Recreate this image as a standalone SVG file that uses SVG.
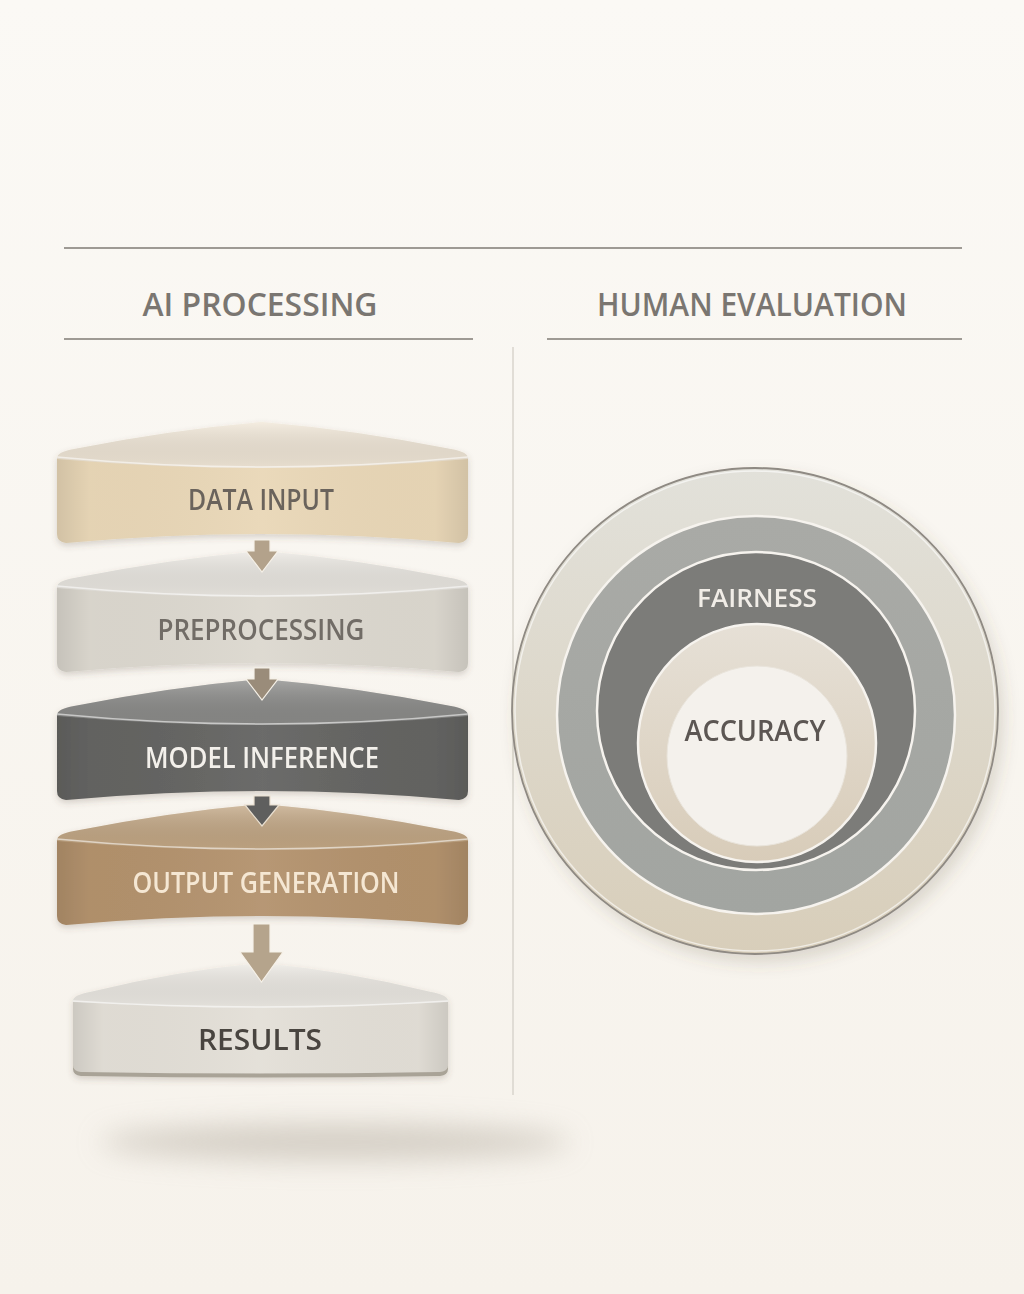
<svg xmlns="http://www.w3.org/2000/svg" width="1024" height="1294" viewBox="0 0 1024 1294">
<defs>
<linearGradient id="bg" x1="0" y1="0" x2="0" y2="1">
<stop offset="0" stop-color="#fbf9f5"/><stop offset="1" stop-color="#f6f2eb"/>
</linearGradient>
<linearGradient id="edge" x1="0" y1="0" x2="1" y2="0">
<stop offset="0" stop-color="#000" stop-opacity="0.10"/><stop offset="0.08" stop-color="#000" stop-opacity="0.02"/>
<stop offset="0.5" stop-color="#fff" stop-opacity="0.05"/>
<stop offset="0.92" stop-color="#000" stop-opacity="0.02"/><stop offset="1" stop-color="#000" stop-opacity="0.10"/>
</linearGradient>
<linearGradient id="lidshade" x1="0" y1="0" x2="0" y2="1">
<stop offset="0" stop-color="#fff" stop-opacity="0.25"/><stop offset="1" stop-color="#000" stop-opacity="0.04"/>
</linearGradient>
<linearGradient id="outerG" x1="0" y1="0" x2="0" y2="1">
<stop offset="0" stop-color="#e2e1da"/><stop offset="1" stop-color="#d8ceba"/>
</linearGradient>
<linearGradient id="ring2G" x1="0" y1="0" x2="0" y2="1">
<stop offset="0" stop-color="#a9aaa6"/><stop offset="1" stop-color="#a2a5a1"/>
</linearGradient>
<linearGradient id="ring4G" x1="0" y1="0" x2="0" y2="1">
<stop offset="0" stop-color="#e6e0d6"/><stop offset="1" stop-color="#d8ccb9"/>
</linearGradient>
<filter id="sh" x="-10%" y="-10%" width="120%" height="130%">
<feDropShadow dx="0" dy="3" stdDeviation="3" flood-color="#5a5040" flood-opacity="0.22"/>
</filter>
<filter id="csh" x="-10%" y="-10%" width="125%" height="125%">
<feDropShadow dx="5" dy="8" stdDeviation="8" flood-color="#5a5040" flood-opacity="0.18"/>
</filter>
<filter id="blur" x="-30%" y="-200%" width="160%" height="500%"><feGaussianBlur stdDeviation="14"/></filter>
<path id="lid" d="M57 37 Q56 30 74 27 Q170 8 262 0 Q355 8 451 27 Q469 30 468 37 Q262.5 55 57 37 Z"/>
<path id="face" d="M57 35 Q262.5 55 468 35 L468 112 Q468 120 459 121 Q262.5 103 66 121 Q57 120 57 112 Z"/>
<path id="rlid" d="M73 39 Q72 32 90 29 Q175 8 261 0 Q346 8 431 29 Q449 32 448 39 Q260.5 50 73 39 Z"/>
<path id="rface" d="M73 38 Q260.5 50 448 38 L448 102 Q448 108 440 109 Q260.5 112 81 109 Q73 108 73 102 Z"/>
</defs>
<style>
text{font-family:"Open Sans","Liberation Sans",sans-serif;text-anchor:middle}
.hdr{font-size:33px;fill:#7a7671;font-weight:600}
.lbl{font-size:28px;font-weight:600}
.rule{stroke:#9e9a94;stroke-width:2}
.hl{fill:none;stroke:#fff;stroke-opacity:0.55;stroke-width:1.5}
</style>
<rect width="1024" height="1294" fill="url(#bg)"/>

<g id="headers">
<line class="rule" x1="64" y1="248" x2="962" y2="248"/>
<line class="rule" x1="64" y1="339" x2="473" y2="339"/>
<line class="rule" x1="547" y1="339" x2="962" y2="339"/>
<line x1="513" y1="347" x2="513" y2="1095" stroke="#d9d5cd" stroke-width="1.5"/>
<text class="hdr" x="260" y="316" textLength="235" lengthAdjust="spacingAndGlyphs">AI PROCESSING</text>
<text class="hdr" x="752" y="316" textLength="310" lengthAdjust="spacingAndGlyphs">HUMAN EVALUATION</text>
</g>

<ellipse cx="335" cy="1142" rx="235" ry="18" fill="#b8b0a4" opacity="0.55" filter="url(#blur)"/>

<g id="data-input" transform="translate(0,422)" filter="url(#sh)">
<use href="#face" fill="#e9d7b7"/>
<use href="#face" fill="url(#edge)"/>
<use href="#lid" fill="#f1e7d7"/>
<use href="#lid" fill="url(#lidshade)"/>
<path class="hl" d="M57 35 Q262.5 55 468 35"/>
<text class="lbl" x="261" y="88" fill="#6b645c" textLength="146" lengthAdjust="spacingAndGlyphs">DATA INPUT</text>
</g>

<g id="preprocessing" transform="translate(0,551)" filter="url(#sh)">
<use href="#face" fill="#dcd8cf"/>
<use href="#face" fill="url(#edge)"/>
<use href="#lid" fill="#ebe8e2"/>
<use href="#lid" fill="url(#lidshade)"/>
<path class="hl" d="M57 35 Q262.5 55 468 35"/>
<text class="lbl" x="261" y="89" fill="#716c66" textLength="207" lengthAdjust="spacingAndGlyphs">PREPROCESSING</text>
</g>

<g id="model-inference" transform="translate(0,679)" filter="url(#sh)">
<use href="#face" fill="#646462"/>
<use href="#face" fill="url(#edge)"/>
<use href="#lid" fill="#8b8b89"/>
<use href="#lid" fill="url(#lidshade)"/>
<path class="hl" d="M57 35 Q262.5 55 468 35" stroke-opacity="0.35"/>
<text class="lbl" x="262" y="89" fill="#f3f0eb" textLength="234" lengthAdjust="spacingAndGlyphs">MODEL INFERENCE</text>
</g>

<g id="output-generation" transform="translate(0,804)" filter="url(#sh)">
<use href="#face" fill="#b3926d"/>
<use href="#face" fill="url(#edge)"/>
<use href="#lid" fill="#c3a784"/>
<use href="#lid" fill="url(#lidshade)"/>
<path class="hl" d="M57 35 Q262.5 55 468 35" stroke="#f3dcc0" stroke-opacity="0.8"/>
<text class="lbl" x="266" y="89" fill="#f5e7d3" textLength="267" lengthAdjust="spacingAndGlyphs">OUTPUT GENERATION</text>
</g>

<g id="results" transform="translate(0,963)" filter="url(#sh)">
<use href="#rface" fill="#e3dfd7"/>
<use href="#rface" fill="url(#edge)"/>
<path d="M73 102 Q73 108 81 109 Q260.5 112 440 109 Q448 108 448 102 L448 106 Q448 112 440 113 Q260.5 116 81 113 Q73 112 73 106 Z" fill="#a9a397"/>
<use href="#rlid" fill="#edeae4"/>
<use href="#rlid" fill="url(#lidshade)"/>
<path class="hl" d="M73 38 Q260.5 50 448 38"/>
<text class="lbl" x="260" y="87" fill="#4a4540" font-weight="700" font-size="30" textLength="124" lengthAdjust="spacingAndGlyphs">RESULTS</text>
</g>

<g id="connectors">
<path d="M254 540 L270 540 L270 551 L278 551 L262 572 L246 551 L254 551 Z" fill="#b3a28b" stroke="#f6f1e8" stroke-width="1.2"/>
<path d="M254 668 L270 668 L270 679 L278 679 L262 700 L246 679 L254 679 Z" fill="#9a8c7a" stroke="#f6f1e8" stroke-width="1.2"/>
<path d="M254 796 L270 796 L270 805 L279 805 L262 826 L245 805 L254 805 Z" fill="#5f5f5e" stroke="#e9dfd0" stroke-width="1.2"/>
<path d="M253 924 L270 924 L270 952 L283 952 L261.5 982 L240 952 L253 952 Z" fill="#b5a48c" stroke="#f6f1e8" stroke-width="1.2"/>
</g>

<g id="human-evaluation" filter="url(#csh)">
<circle id="outer-ring" cx="755" cy="711" r="243" fill="url(#outerG)" stroke="#8f8a83" stroke-width="1.8"/>
<circle cx="755" cy="711" r="240" fill="none" stroke="#fff" stroke-opacity="0.6" stroke-width="1.5"/>
<circle id="ring-2" cx="756" cy="715" r="199" fill="url(#ring2G)" stroke="#f6f3ee" stroke-width="2.5"/>
<circle id="fairness" cx="756" cy="711" r="159" fill="#7b7b79" stroke="#f6f3ee" stroke-width="2.5"/>
<circle id="ring-4" cx="757" cy="743" r="119" fill="url(#ring4G)" stroke="#f6f3ee" stroke-width="2.5"/>
<circle id="accuracy" cx="757" cy="756" r="90" fill="#f4f1ec" stroke="#e9e4db" stroke-width="1"/>
<text x="757" y="607" font-size="25" font-weight="600" fill="#f1ede7" textLength="120" lengthAdjust="spacingAndGlyphs">FAIRNESS</text>
<text x="755" y="741" font-size="29" font-weight="600" fill="#5b5753" textLength="141" lengthAdjust="spacingAndGlyphs">ACCURACY</text>
</g>
</svg>
